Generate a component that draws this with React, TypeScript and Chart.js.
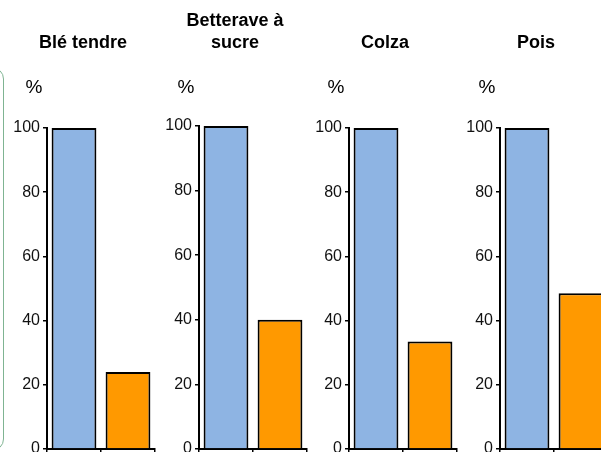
import React, { useEffect, useRef } from "react";
import { Chart, registerables } from "chart.js";

Chart.register(...registerables);

// ---- data ----
const cropTitles: (string | string[])[] = ["Blé tendre", ["Betterave à", "sucre"], "Colza", "Pois"];
const barLabels = ["Référence", "Valeur"];
const referenceValues = [100, 100, 100, 100];
const cropValues = [24, 40, 33.5, 48.5];
const yMin = 0;
const yMax = 100;
const yStep = 20;
const unitLabel = "%";

// ---- style / layout ----
const BLUE = "#8EB4E3";
const ORANGE = "#FF9900";
const CANVAS_W = 160;
const CANVAS_H = 480;
const AXIS_W = 47;
const PLOT_W = 108;
const PLOT_BOTTOM = 449;
const X_AXIS_H = 6;
const panelLefts = [0, 152, 302, 453];
const panelTops = [128, 126, 128, 128];
const FONT = "'Liberation Sans', Arial, sans-serif";

const textPlugin = {
  id: "panelText",
  afterDraw(chart: any, _args: any, opts: any) {
    const { ctx, chartArea } = chart;
    ctx.save();
    ctx.fillStyle = "#000";
    ctx.textAlign = "center";
    ctx.textBaseline = "middle";
    ctx.font = `bold 18px ${FONT}`;
    const lines: string[] = Array.isArray(opts.title) ? opts.title : [opts.title];
    const cx = chartArea.left + 36;
    const lastY = 43;
    const lh = 22;
    lines.forEach((l, i) => {
      ctx.fillText(l, cx, lastY - (lines.length - 1 - i) * lh);
    });
    ctx.font = `19px ${FONT}`;
    ctx.fillText(opts.unit, chartArea.left - 13, 88);
    ctx.restore();
  },
};

function Panel({ index }: { index: number }) {
  const ref = useRef<HTMLCanvasElement | null>(null);
  useEffect(() => {
    if (!ref.current) return;
    const top = panelTops[index];
    const chart = new Chart(ref.current, {
      type: "bar",
      data: {
        labels: barLabels,
        datasets: [
          {
            data: [referenceValues[index], cropValues[index]],
            backgroundColor: [BLUE, ORANGE],
            borderColor: "#000",
            borderWidth: 2,
            barPercentage: 0.83,
            categoryPercentage: 1,
          },
        ],
      },
      options: {
        animation: false,
        responsive: false,
        devicePixelRatio: 1,
        layout: {
          padding: {
            left: 0,
            top: top,
            right: CANVAS_W - AXIS_W - PLOT_W,
            bottom: CANVAS_H - PLOT_BOTTOM - X_AXIS_H,
          },
        },
        plugins: {
          legend: { display: false },
          title: { display: false },
          tooltip: { enabled: false },
          panelText: { title: cropTitles[index], unit: unitLabel },
        } as any,
        scales: {
          x: {
            type: "category",
            ticks: { display: false },
            grid: {
              offset: true,
              drawOnChartArea: false,
              drawTicks: true,
              tickLength: 5,
              color: "#000",
              lineWidth: 1.5,
            },
            border: { display: true, color: "#000", width: 2 },
            afterFit: (s: any) => {
              s.height = X_AXIS_H;
            },
          },
          y: {
            min: yMin,
            max: yMax,
            ticks: {
              stepSize: yStep,
              color: "#111",
              padding: 3,
              font: { size: 16, family: FONT },
            },
            grid: {
              drawOnChartArea: false,
              drawTicks: true,
              tickLength: 4,
              color: "#000",
              lineWidth: 1.5,
            },
            border: { display: true, color: "#000", width: 2 },
            afterFit: (s: any) => {
              s.width = AXIS_W;
            },
          },
        },
      },
      plugins: [textPlugin],
    });
    return () => chart.destroy();
  }, [index]);
  return (
    <canvas
      ref={ref}
      width={CANVAS_W}
      height={CANVAS_H}
      style={{ position: "absolute", left: panelLefts[index], top: 0, width: CANVAS_W, height: CANVAS_H }}
    />
  );
}

export default function App() {
  return (
    <div
      style={{
        position: "fixed",
        left: 0,
        top: 0,
        width: 601,
        height: 452,
        overflow: "hidden",
        background: "#fff",
      }}
    >
      <div
        style={{
          position: "absolute",
          left: -200,
          top: 67,
          width: 202,
          height: 382,
          border: "1.5px solid #7fb492",
          borderRadius: 12,
        }}
      />
      {cropTitles.map((_, i) => (
        <Panel key={i} index={i} />
      ))}
    </div>
  );
}
